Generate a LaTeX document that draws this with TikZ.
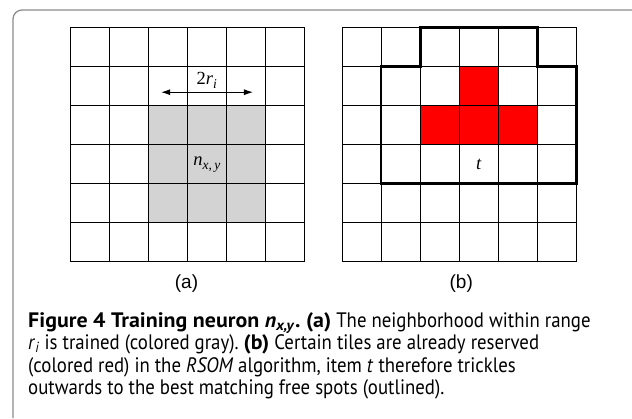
\documentclass[tikz,border=0pt]{standalone}
\usepackage{fontspec}
\setmainfont{PT Sans}[
  UprightFeatures={FakeStretch=0.9}, ItalicFeatures={FakeStretch=0.9},
  BoldFeatures={FakeStretch=1.05}, BoldItalicFeatures={FakeStretch=1.05}]
\setsansfont{Liberation Sans}
\newfontfamily\cellfont{Liberation Serif}
\usetikzlibrary{positioning,arrows.meta}
\definecolor{cFrame}{HTML}{8C8C8C}
\definecolor{cTrained}{HTML}{D3D3D3}
\definecolor{cReserved}{HTML}{FF0000}
\newcommand{\cellidx}[1]{\raisebox{-0.22em}{\fontsize{13.5}{14}\selectfont\textit{#1}}}
\tikzset{
  cellline/.style ={draw=black, line width=0.9pt},
  trained/.style  ={fill=cTrained},
  reserved/.style ={fill=cReserved},
  freeout/.style  ={draw=black, line width=2.6pt, line join=miter},
  frame/.style    ={draw=cFrame, line width=1.3pt, rounded corners=9pt},
  sublbl/.style   ={font=\sffamily\fontsize{19}{22}\selectfont, inner sep=0pt},
  celllbl/.style  ={font=\cellfont\fontsize{18.5}{20}\selectfont, inner sep=0pt},
  arrb/.style     ={{Latex[length=9pt,width=6pt]}-{Latex[length=9pt,width=6pt]}, line width=1pt},
  caption/.style  ={align=left, anchor=north west, inner sep=0pt,
                    font=\fontsize{20.9}{22.5}\selectfont\frenchspacing},
}

\begin{document}
\begin{tikzpicture}[x=1pt, y=-1pt]
\useasboundingbox (0,0) rectangle (632,418);
\draw[frame] (13,418) |- (632,10);

% (a) neighborhood of the neuron
\begin{scope}[shift={(70,27.3)}, x=39.1pt, y=-39.1pt]
  \fill[trained] (2,2) rectangle (5,5);
  \foreach \i in {0,...,6} {
    \draw[cellline] (\i,0) -- (\i,6);
    \draw[cellline] (0,\i) -- (6,\i);
  }
  \coordinate (rangeL) at (2.33,1.66);
  \coordinate (rangeR) at (4.68,1.66);
  \draw[arrb] (rangeL) -- (rangeR);
  \node[celllbl] (range) at (3.5,1.36) {2\textit{r}\cellidx{i}};
  \node[celllbl] (neuron) at (3.5,3.52) {\textit{n}\cellidx{x,\,y}};
  \node[sublbl] (capA) at (2.98,6.56) {(a)};
\end{scope}

% (b) reserved tiles and free spots
\begin{scope}[shift={(342,27.3)}, x=39.1pt, y=-39.1pt]
  \fill[reserved] (3,1) rectangle (4,2);
  \fill[reserved] (2,2) rectangle (5,3);
  \foreach \i in {0,...,6} {
    \draw[cellline] (\i,0) -- (\i,6);
    \draw[cellline] (0,\i) -- (6,\i);
  }
  \draw[freeout] (2,0) -- (5,0) -- (5,1) -- (6,1) -- (6,4) -- (1,4) -- (1,1) -- (2,1) -- cycle;
  \node[celllbl] (item) at (3.5,3.5) {\textit{t}};
  \node[sublbl] (capB) at (3.05,6.56) {(b)};
\end{scope}

\node[caption] (cap) at (28,312)
  {\textbf{Figure 4 Training neuron \textit{n}\textsubscript{\textit{x,y}}. (a)} The neighborhood within range\\
   \textit{r}\textsubscript{\textit{i}} is trained (colored gray). \textbf{(b)} Certain tiles are already reserved\\
   (colored red) in the \textit{RSOM} algorithm, item \textit{t} therefore trickles\\
   outwards to the best matching free spots (outlined).};
\end{tikzpicture}
\end{document}
